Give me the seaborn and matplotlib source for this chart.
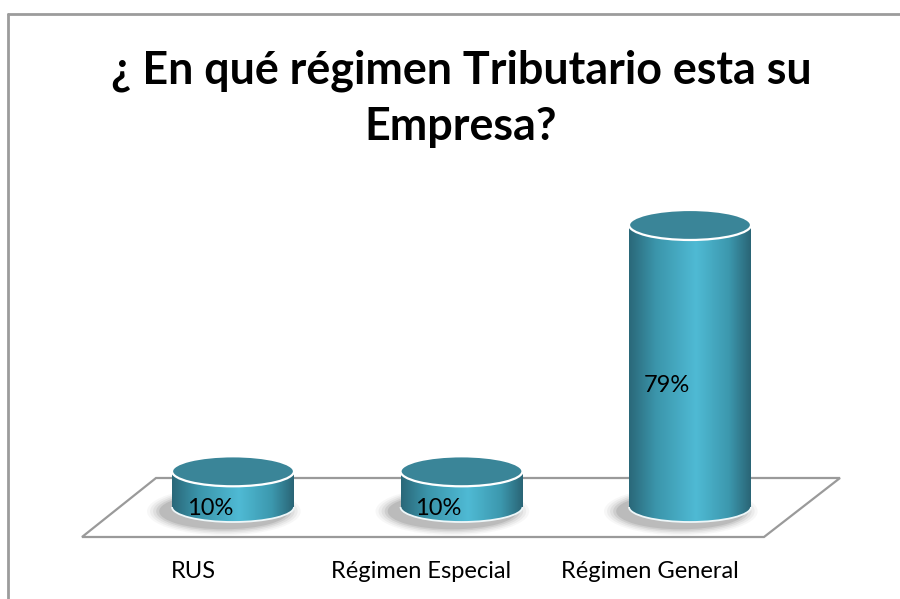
import numpy as np
import matplotlib
matplotlib.use("Agg")
import matplotlib.pyplot as plt
from matplotlib.colors import LinearSegmentedColormap
from matplotlib.patches import Ellipse, Polygon, Arc
from matplotlib.lines import Line2D
import seaborn as sns

categorias = ["RUS", "Régimen Especial", "Régimen General"]
valores = [10, 10, 79]
etiquetas = ["10%", "10%", "79%"]
titulo = "¿ En qué régimen Tributario esta su\nEmpresa?"

sns.set_theme(style="white")
plt.rcParams["font.family"] = ["Lato", "DejaVu Sans"]
plt.rcParams["text.color"] = "black"

W, H = 900, 599
fig = plt.figure(figsize=(9, 5.99), dpi=100)
ax = fig.add_axes([0, 0, 1, 1])

# escala: categoria 0 en px 233, separacion 228.5 px; valor 0 en px 507, 3.57 px por %
px_cat, x0_px, y0_px, px_val = 228.5, 233, 507, 3.57
xlim = (-x0_px / px_cat, (W - x0_px) / px_cat)
ylim = ((y0_px - H) / px_val, y0_px / px_val)

def to_axes(px, py):
    return px / W, 1 - py / H

ancho = 122 / px_cat
alto_elipse = 30 / px_val
sns.barplot(x=categorias, y=valores, width=ancho, ax=ax, color="#3a93a8",
            saturation=1, zorder=3)

# piso en perspectiva
piso = [to_axes(82, 537), to_axes(764, 537), to_axes(840, 478), to_axes(156, 478)]
ax.add_patch(Polygon(piso, closed=True, fill=False, ec="#9a9a9a", lw=1.6,
                     transform=ax.transAxes, zorder=1))

grad = LinearSegmentedColormap.from_list(
    "cil", [(0, "#2a6879"), (0.22, "#3b95ab"), (0.55, "#4fbad4"),
            (0.82, "#3c98ae"), (1, "#2a6576")])
g = np.linspace(0, 1, 256).reshape(1, -1)

for i, bar in enumerate(ax.containers[0]):
    cx = bar.get_x() + bar.get_width() / 2
    v = bar.get_height()
    xl, xr = bar.get_x(), bar.get_x() + bar.get_width()
    bar.set_facecolor("none")
    bar.set_edgecolor("none")
    # sombra
    for k, a in enumerate([0.04, 0.06, 0.08, 0.11, 0.14]):
        s = 1.26 - k * 0.05
        ax.add_patch(Ellipse((cx - 0.04, -1.2), ancho * s, alto_elipse * (1.6 - k * 0.1),
                             fc="#4a4a4a", ec="none", alpha=a, zorder=2))
    base = Ellipse((cx, 0), ancho, alto_elipse, fc="none", ec="none", zorder=5)
    ax.add_patch(base)
    for clip in (bar, base):
        im = ax.imshow(g, cmap=grad, extent=[xl, xr, -alto_elipse, v],
                       aspect="auto", zorder=4)
        im.set_clip_path(clip)
    ax.add_patch(Arc((cx, 0), ancho, alto_elipse, theta1=180, theta2=360,
                     color="#eef7f9", lw=1.3, zorder=5))
    ax.add_patch(Ellipse((cx, v), ancho, alto_elipse, fc="#3a8598", ec="white",
                         lw=1.6, zorder=6))
    ax.text(i - 0.1, v / 2 - 5.5, etiquetas[i], ha="center", va="center",
            fontsize=17, color="black", zorder=7)
    ax.text(i - 0.175, ylim[0] + (H - 571) / px_val, categorias[i], ha="center",
            va="center", fontsize=17, color="black", zorder=7)

ax.set_xlim(*xlim)
ax.set_ylim(*ylim)
ax.axis("off")

fig.text(461 / W, 1 - 99 / H, titulo, ha="center", va="center", fontsize=32.3,
         fontweight="bold", linespacing=1.4, color="black")

fig.add_artist(Line2D([8 / W, 8 / W], [0, 1 - 14 / H], color="#9c9c9c", lw=2))
fig.add_artist(Line2D([8 / W, 1], [1 - 14 / H, 1 - 14 / H], color="#9c9c9c", lw=2))

fig.savefig("out.png", dpi=100, facecolor="white")
